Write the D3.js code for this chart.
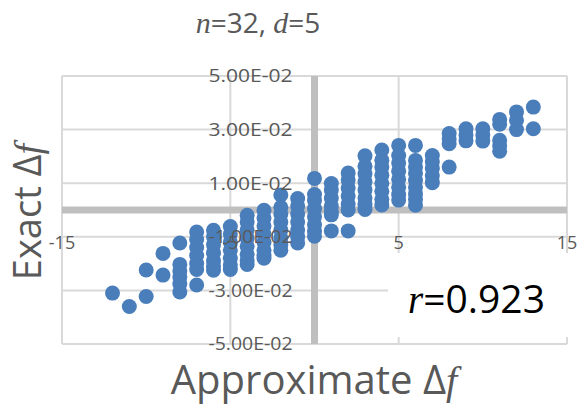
<!DOCTYPE html>
<html>
<head>
<meta charset="utf-8">
<script src="https://cdn.jsdelivr.net/npm/d3@7"></script>
<style>
  body { margin: 0; background: #fff; }
  text { font-family: "Open Sans", sans-serif; }
</style>
</head>
<body>
<div id="chart"></div>
<script>
// approximate delta f (integer columns) and the exact delta f values
var approxDf = [-12, -11, -10, -9, -8, -7, -6, -5, -4, -3, -2, -1, 0, 1, 2, 3, 4, 5, 6, 7, 8, 9, 10, 11, 12, 13];
var exactDf = [
  [-0.031],
  [-0.036],
  [-0.0224, -0.0323],
  [-0.0162, -0.0243],
  [-0.0123, -0.0203, -0.0228, -0.0250, -0.0275, -0.0306],
  [-0.0082, -0.0110, -0.0140, -0.0170, -0.0200, -0.0222, -0.0280],
  [-0.0076, -0.0100, -0.0130, -0.0160, -0.0190, -0.0210, -0.0225],
  [-0.0062, -0.0090, -0.0120, -0.0150, -0.0180, -0.0205, -0.0222],
  [-0.0020, -0.0045, -0.0075, -0.0105, -0.0135, -0.0165, -0.0190, -0.0203],
  [-0.0001, -0.0030, -0.0060, -0.0090, -0.0120, -0.0150, -0.0170, -0.0180],
  [0.0056, 0.0010, -0.0015, -0.0045, -0.0075, -0.0105, -0.0130, -0.0150],
  [0.0043, 0.0015, -0.0015, -0.0045, -0.0075, -0.0100, -0.0123],
  [0.0118, 0.0058, 0.0035, 0.0005, -0.0025, -0.0055, -0.0080, -0.0098],
  [0.0099, 0.0075, 0.0045, 0.0015, -0.0005, -0.0018, -0.0078],
  [0.0138, 0.0112, 0.0082, 0.0052, 0.0022, 0.0000, -0.0078],
  [0.0202, 0.0163, 0.0135, 0.0105, 0.0075, 0.0045, 0.0020, 0.0002],
  [0.0224, 0.0186, 0.0160, 0.0130, 0.0100, 0.0070, 0.0040, 0.0019],
  [0.0241, 0.0203, 0.0175, 0.0145, 0.0115, 0.0085, 0.0058, 0.0037],
  [0.0241, 0.0185, 0.0160, 0.0137, 0.0110, 0.0085, 0.0060, 0.0040, 0.0018],
  [0.0203, 0.0180, 0.0155, 0.0128, 0.0102],
  [0.0285, 0.0265, 0.0247, 0.0160],
  [0.0303, 0.0280, 0.0258],
  [0.0303, 0.0280, 0.0257],
  [0.0338, 0.0320, 0.0260, 0.0240, 0.0219],
  [0.0366, 0.0335, 0.0300],
  [0.0384, 0.0303]
];

var xTicks = [-15, -5, 5, 15];
var yTicks = [-0.05, -0.03, -0.01, 0.01, 0.03, 0.05];
var yTickLabels = ["-5.00E-02", "-3.00E-02", "-1.00E-02", "1.00E-02", "3.00E-02", "5.00E-02"];

var width = 580, height = 405;

var svg = d3.select("#chart").append("svg")
    .attr("width", width)
    .attr("height", height);

var x = d3.scaleLinear().domain([-15, 15]).range([62, 567]);
var y = d3.scaleLinear().domain([-0.05, 0.05]).range([344, 76]);

// flatten into points
var points = [];
approxDf.forEach(function(a, i) {
  exactDf[i].forEach(function(e) { points.push({a: a, e: e}); });
});

// gridlines
svg.append("g").selectAll("line")
  .data(yTicks).enter().append("line")
    .attr("x1", x(-15)).attr("x2", x(15))
    .attr("y1", function(d) { return y(d); })
    .attr("y2", function(d) { return y(d); })
    .style("stroke", "#d9d9d9").style("stroke-width", 2);

svg.append("g").selectAll("line")
  .data(xTicks).enter().append("line")
    .attr("y1", y(-0.05)).attr("y2", y(0.05))
    .attr("x1", function(d) { return x(d); })
    .attr("x2", function(d) { return x(d); })
    .style("stroke", "#d9d9d9").style("stroke-width", 2);

// thick axis lines through zero
svg.append("line")
    .attr("x1", x(-15)).attr("x2", x(15))
    .attr("y1", y(0)).attr("y2", y(0))
    .style("stroke", "#bfbfbf").style("stroke-width", 7);
svg.append("line")
    .attr("x1", x(0)).attr("x2", x(0))
    .attr("y1", y(-0.05)).attr("y2", y(0.05))
    .style("stroke", "#bfbfbf").style("stroke-width", 7);

// dots
svg.append("g").selectAll("circle")
  .data(points).enter().append("circle")
    .attr("cx", function(d) { return x(d.a); })
    .attr("cy", function(d) { return y(d.e); })
    .attr("r", 7.5)
    .style("fill", "#4a7ebb");

// tick labels
svg.append("g").selectAll("text")
  .data(yTicks).enter().append("text")
    .attr("x", x(0) - 22)
    .attr("y", function(d) { return y(d); })
    .attr("dy", "0.36em")
    .attr("text-anchor", "end")
    .attr("font-size", 18)
    .attr("textLength", 84)
    .attr("lengthAdjust", "spacingAndGlyphs")
    .style("fill", "#595959")
    .text(function(d, i) { return yTickLabels[i]; });

svg.append("g").selectAll("text")
  .data(xTicks).enter().append("text")
    .attr("x", function(d) { return x(d); })
    .attr("y", y(0) + 39)
    .attr("text-anchor", "middle")
    .attr("font-size", 18)
    .style("fill", "#595959")
    .text(function(d) { return d; });

// title
var title = svg.append("text")
    .attr("x", 258).attr("y", 33)
    .attr("text-anchor", "middle")
    .attr("font-size", 28)
    .style("fill", "#595959");
title.append("tspan").style("font-family", "Liberation Serif").style("font-style", "italic").attr("font-size", 30).text("n");
title.append("tspan").text("=32, ");
title.append("tspan").style("font-family", "Liberation Serif").style("font-style", "italic").attr("font-size", 30).text("d");
title.append("tspan").text("=5");

// axis titles
var xt = svg.append("text")
    .attr("x", 314).attr("y", 394)
    .attr("text-anchor", "middle")
    .attr("font-size", 40)
    .style("fill", "#595959");
xt.append("tspan").text("Approximate \u0394");
xt.append("tspan").style("font-family", "Liberation Serif").style("font-style", "italic").text("f");

var yt = svg.append("text")
    .attr("transform", "translate(41,212) rotate(-90)")
    .attr("text-anchor", "middle")
    .attr("font-size", 38)
    .style("fill", "#595959");
yt.append("tspan").text("Exact \u0394");
yt.append("tspan").style("font-family", "Liberation Serif").style("font-style", "italic").text("f");

// correlation box
svg.append("rect")
    .attr("x", 388).attr("y", 253)
    .attr("width", 182).attr("height", 84)
    .style("fill", "#fff");
var rt = svg.append("text")
    .attr("x", 408).attr("y", 313)
    .attr("font-size", 39)
    .style("fill", "#000");
rt.append("tspan").style("font-family", "Liberation Serif").style("font-style", "italic").text("r");
rt.append("tspan").text("=0.923");
</script>
</body>
</html>
